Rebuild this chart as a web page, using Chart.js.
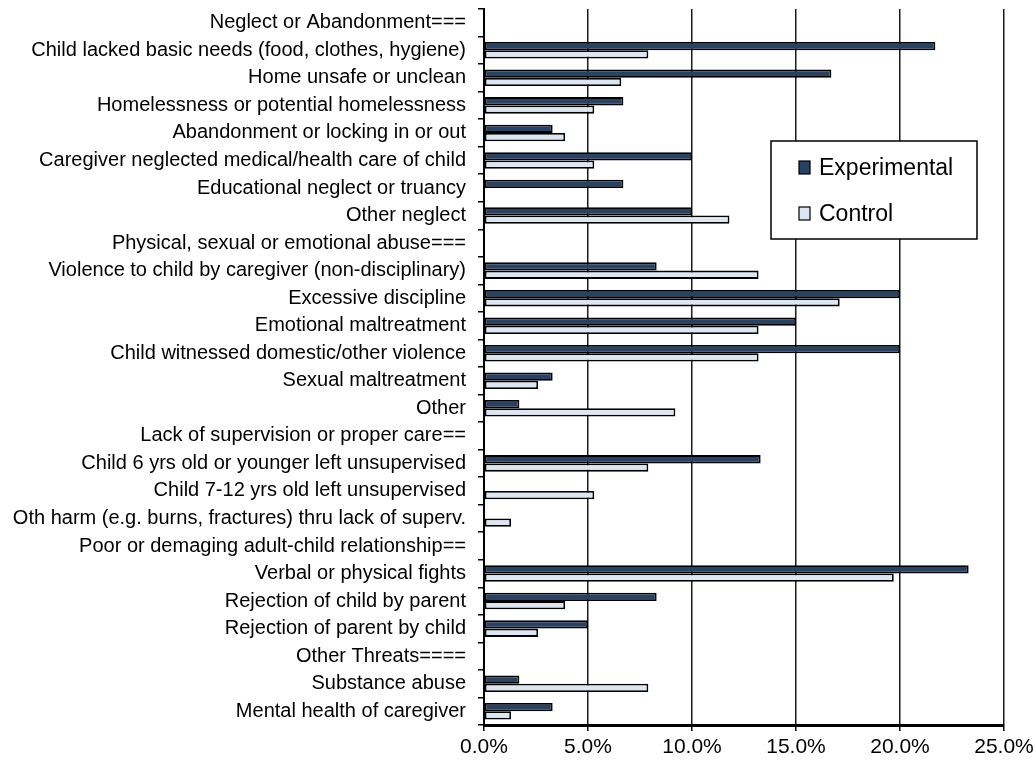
<!DOCTYPE html>
<html>
<head>
<meta charset="utf-8">
<script src="https://cdn.jsdelivr.net/npm/chart.js@4.4.1/dist/chart.umd.min.js"></script>
<style>
  html, body { margin: 0; padding: 0; background: #ffffff; }
  #wrap { width: 1036px; height: 774px; position: relative; }
</style>
</head>
<body>
<div id="wrap"><canvas id="c" width="1036" height="774"></canvas></div>
<script>
const categories = [
  "Neglect or Abandonment===",
  "Child lacked basic needs (food, clothes, hygiene)",
  "Home unsafe or unclean",
  "Homelessness or potential homelessness",
  "Abandonment or locking in or out",
  "Caregiver neglected medical/health care of child",
  "Educational neglect or truancy",
  "Other neglect",
  "Physical, sexual or emotional abuse===",
  "Violence to child by caregiver (non-disciplinary)",
  "Excessive discipline",
  "Emotional maltreatment",
  "Child witnessed domestic/other violence",
  "Sexual maltreatment",
  "Other",
  "Lack of supervision or proper care==",
  "Child 6 yrs old or younger left unsupervised",
  "Child 7-12 yrs old left unsupervised",
  "Oth harm (e.g. burns, fractures) thru lack of superv.",
  "Poor or demaging adult-child relationship==",
  "Verbal or physical fights",
  "Rejection of child by parent",
  "Rejection of parent by child",
  "Other Threats====",
  "Substance abuse",
  "Mental health of caregiver"
];
const experimental = [null, 21.7, 16.7, 6.7, 3.3, 10.0, 6.7, 10.0, null, 8.3, 20.0, 15.0, 20.0, 3.3, 1.7, null, 13.3, null, null, null, 23.3, 8.3, 5.0, null, 1.7, 3.3];
const control =      [null, 7.9, 6.6, 5.3, 3.9, 5.3, null, 11.8, null, 13.2, 17.1, 13.2, 13.2, 2.6, 9.2, null, 7.9, 5.3, 1.3, null, 19.7, 3.9, 2.6, null, 7.9, 1.3];
const seriesNames = ["Experimental", "Control"];
const xTicks = [0, 5, 10, 15, 20, 25];

const FONT = "'Liberation Sans', Arial, sans-serif";
const colors = ["#274263", "#dce6f2"];

const boxLegend = {
  id: 'boxLegend',
  afterDraw(chart) {
    const ctx = chart.ctx;
    const a = chart.chartArea;
    const x0 = a.left + 287, y0 = a.top + 132, w = 206, h = 98;
    ctx.save();
    ctx.fillStyle = '#ffffff';
    ctx.fillRect(x0, y0, w, h);
    ctx.strokeStyle = '#000000';
    ctx.lineWidth = 1.5;
    ctx.strokeRect(x0, y0, w, h);
    chart.data.datasets.forEach((ds, i) => {
      const cy = y0 + 27 + i * 46;
      ctx.fillStyle = ds.backgroundColor;
      ctx.fillRect(x0 + 28, cy - 7, 11, 13);
      ctx.strokeStyle = '#000';
      ctx.lineWidth = 1.2;
      ctx.strokeRect(x0 + 28, cy - 7, 11, 13);
      ctx.fillStyle = '#000';
      ctx.font = "23px " + FONT;
      ctx.textBaseline = 'middle';
      ctx.textAlign = 'left';
      ctx.fillText(ds.label, x0 + 48, cy + 1);
    });
    ctx.restore();
  }
};

new Chart(document.getElementById('c'), {
  type: 'bar',
  data: {
    labels: categories,
    datasets: [
      { label: seriesNames[0], data: experimental, backgroundColor: colors[0], borderColor: '#000', borderWidth: 1.8, borderSkipped: false },
      { label: seriesNames[1], data: control, backgroundColor: colors[1], borderColor: '#000', borderWidth: 1.8, borderSkipped: false }
    ]
  },
  options: {
    indexAxis: 'y',
    responsive: false,
    animation: false,
    devicePixelRatio: 1,
    layout: { padding: { top: 9, right: 32, left: 0, bottom: 0 } },
    datasets: { bar: { categoryPercentage: 0.6, barPercentage: 1.0 } },
    plugins: { legend: { display: false }, tooltip: { enabled: false } },
    scales: {
      x: {
        min: 0, max: 25,
        afterBuildTicks(scale) { scale.ticks = xTicks.map(v => ({ value: v })); },
        afterFit(scale) { scale.height = 49; scale.paddingLeft = 0; scale.paddingRight = 0; },
        ticks: {
          callback: v => v.toFixed(1) + '%',
          color: '#000',
          font: { family: FONT, size: 21 },
          padding: 4,
          maxRotation: 0
        },
        grid: { color: '#1a1a1a', lineWidth: 1.5, tickLength: 6, tickColor: '#000', drawTicks: true },
        border: { color: '#000', width: 3 }
      },
      y: {
        afterFit(scale) { scale.width = 484; scale.paddingTop = 0; scale.paddingBottom = 0; },
        ticks: {
          color: '#000',
          font: { family: FONT, size: 20 },
          padding: 12,
          autoSkip: false
        },
        grid: { drawOnChartArea: false, tickLength: 6, tickColor: '#000', lineWidth: 1.5, offset: true },
        border: { color: '#000', width: 2 }
      }
    }
  },
  plugins: [boxLegend]
});
</script>
</body>
</html>
